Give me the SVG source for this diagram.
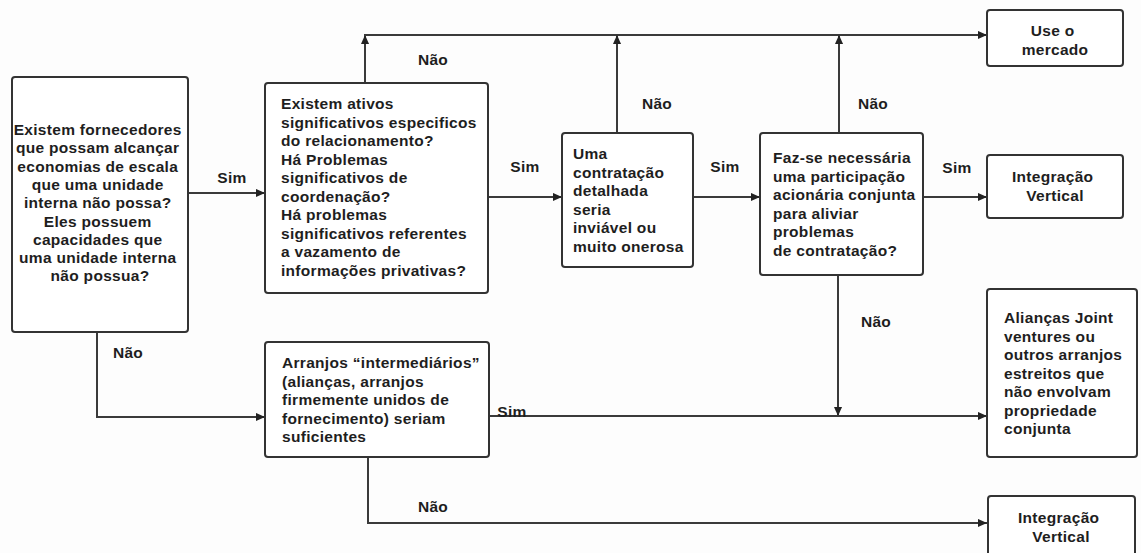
<svg xmlns="http://www.w3.org/2000/svg" width="1141" height="553" viewBox="0 0 1141 553">
  <style>
    .box { fill: #ffffff; stroke: #333333; stroke-width: 2; }
    .t { font-family: "Liberation Sans", Arial, sans-serif; font-weight: bold; font-size: 15.5px; letter-spacing: 0.3px; fill: #1e1e1e; }
    .c { text-anchor: middle; }
    .line { fill: none; stroke: #3a3a3a; stroke-width: 2; }
    .lbl { font-family: "Liberation Sans", Arial, sans-serif; font-weight: bold; font-size: 15.5px; letter-spacing: 0.3px; fill: #1e1e1e; text-anchor: middle; }
  </style>
  <defs>
    <marker id="arr" viewBox="0 0 10 10" refX="10" refY="5" markerWidth="10" markerHeight="9" markerUnits="userSpaceOnUse" orient="auto">
      <path d="M0,0.5 L10,5 L0,9.5 z" fill="#222222"/>
    </marker>
  </defs>
  <rect x="0" y="0" width="1141" height="553" fill="#fdfdfd"/>

  <g id="connectors">
    <!-- node1 -> node2 -->
    <path class="line" d="M188,193 H265" marker-end="url(#arr)"/>
    <!-- node2 up to top line -->
    <path class="line" d="M365,83 V35" marker-end="url(#arr)"/>
    <path class="line" d="M364,35 H987" marker-end="url(#arr)"/>
    <!-- node2 -> node3 -->
    <path class="line" d="M488,197 H562" marker-end="url(#arr)"/>
    <!-- node3 up -->
    <path class="line" d="M617,133 V35" marker-end="url(#arr)"/>
    <!-- node3 -> node4 -->
    <path class="line" d="M693,197 H760" marker-end="url(#arr)"/>
    <!-- node4 up -->
    <path class="line" d="M839,133 V35" marker-end="url(#arr)"/>
    <!-- node4 -> integracao top -->
    <path class="line" d="M923,197 H987" marker-end="url(#arr)"/>
    <!-- node4 down -->
    <path class="line" d="M838,275 V416" marker-end="url(#arr)"/>
    <!-- node1 down to arranjos -->
    <path class="line" d="M97,332 V417 H265" marker-end="url(#arr)"/>
    <!-- arranjos sim -> aliancas -->
    <path class="line" d="M489,416 H987" marker-end="url(#arr)"/>
    <!-- arranjos nao -> integracao bottom -->
    <path class="line" d="M368,457 V523 H987" marker-end="url(#arr)"/>

    <text class="lbl" x="232" y="183">Sim</text>
    <text class="lbl" x="433" y="65">Não</text>
    <text class="lbl" x="525" y="172">Sim</text>
    <text class="lbl" x="657" y="109">Não</text>
    <text class="lbl" x="725" y="172">Sim</text>
    <text class="lbl" x="873" y="109">Não</text>
    <text class="lbl" x="957" y="173">Sim</text>
    <text class="lbl" x="876" y="327">Não</text>
    <text class="lbl" x="128" y="358">Não</text>
    <text class="lbl" x="512" y="417">Sim</text>
    <text class="lbl" x="433" y="512">Não</text>
  </g>

  <g id="node-fornecedores">
    <rect class="box" x="12" y="77" width="176" height="255" rx="3"/>
    <text class="t c" x="100" y="135">
      <tspan x="100">Existem fornecedores</tspan>
      <tspan x="100" dy="18.3">que possam alcançar</tspan>
      <tspan x="100" dy="18.3">economias de escala</tspan>
      <tspan x="100" dy="18.3">que uma unidade</tspan>
      <tspan x="100" dy="18.3">interna não possa?</tspan>
      <tspan x="100" dy="18.3">Eles possuem</tspan>
      <tspan x="100" dy="18.3">capacidades que</tspan>
      <tspan x="100" dy="18.3">uma unidade interna</tspan>
      <tspan x="100" dy="18.3">não possua?</tspan>
    </text>
  </g>

  <g id="node-ativos">
    <rect class="box" x="265" y="83" width="223" height="210" rx="3"/>
    <text class="t" x="281" y="109">
      <tspan x="281">Existem ativos</tspan>
      <tspan x="281" dy="18.5">significativos especificos</tspan>
      <tspan x="281" dy="18.5">do relacionamento?</tspan>
      <tspan x="281" dy="18.5">Há Problemas</tspan>
      <tspan x="281" dy="18.5">significativos de</tspan>
      <tspan x="281" dy="18.5">coordenação?</tspan>
      <tspan x="281" dy="18.5">Há problemas</tspan>
      <tspan x="281" dy="18.5">significativos referentes</tspan>
      <tspan x="281" dy="18.5">a vazamento de</tspan>
      <tspan x="281" dy="18.5">informações privativas?</tspan>
    </text>
  </g>

  <g id="node-contratacao">
    <rect class="box" x="562" y="133" width="131" height="134" rx="3"/>
    <text class="t" x="573" y="159">
      <tspan x="573">Uma</tspan>
      <tspan x="573" dy="18.5">contratação</tspan>
      <tspan x="573" dy="18.5">detalhada</tspan>
      <tspan x="573" dy="18.5">seria</tspan>
      <tspan x="573" dy="18.5">inviável ou</tspan>
      <tspan x="573" dy="18.5">muito onerosa</tspan>
    </text>
  </g>

  <g id="node-participacao">
    <rect class="box" x="760" y="133" width="163" height="142" rx="3"/>
    <text class="t" x="773" y="163">
      <tspan x="773">Faz-se necessária</tspan>
      <tspan x="773" dy="18.5">uma participação</tspan>
      <tspan x="773" dy="18.5">acionária conjunta</tspan>
      <tspan x="773" dy="18.5">para aliviar</tspan>
      <tspan x="773" dy="18.5">problemas</tspan>
      <tspan x="773" dy="18.5">de contratação?</tspan>
    </text>
  </g>

  <g id="node-mercado">
    <rect class="box" x="987" y="10" width="136" height="56" rx="3"/>
    <text class="t c" x="1055" y="36">
      <tspan x="1055">Use o</tspan>
      <tspan x="1055" dy="18.5">mercado</tspan>
    </text>
  </g>

  <g id="node-integracao-1">
    <rect class="box" x="987" y="155" width="136" height="63" rx="3"/>
    <text class="t c" x="1055" y="182">
      <tspan x="1055">Integração</tspan>
      <tspan x="1055" dy="18.5">Vertical</tspan>
    </text>
  </g>

  <g id="node-aliancas">
    <rect class="box" x="987" y="289" width="150" height="168" rx="3"/>
    <text class="t" x="1004" y="323">
      <tspan x="1004">Alianças Joint</tspan>
      <tspan x="1004" dy="18.5">ventures ou</tspan>
      <tspan x="1004" dy="18.5">outros arranjos</tspan>
      <tspan x="1004" dy="18.5">estreitos que</tspan>
      <tspan x="1004" dy="18.5">não envolvam</tspan>
      <tspan x="1004" dy="18.5">propriedade</tspan>
      <tspan x="1004" dy="18.5">conjunta</tspan>
    </text>
  </g>

  <g id="node-arranjos">
    <rect class="box" x="265" y="342" width="224" height="115" rx="3"/>
    <text class="t" x="282" y="368">
      <tspan x="282">Arranjos “intermediários”</tspan>
      <tspan x="282" dy="18.5">(alianças, arranjos</tspan>
      <tspan x="282" dy="18.5">firmemente unidos de</tspan>
      <tspan x="282" dy="18.5">fornecimento) seriam</tspan>
      <tspan x="282" dy="18.5">suficientes</tspan>
    </text>
  </g>

  <g id="node-integracao-2">
    <rect class="box" x="988" y="496" width="147" height="62" rx="3"/>
    <text class="t c" x="1061" y="523">
      <tspan x="1061">Integração</tspan>
      <tspan x="1061" dy="18.5">Vertical</tspan>
    </text>
  </g>
</svg>
